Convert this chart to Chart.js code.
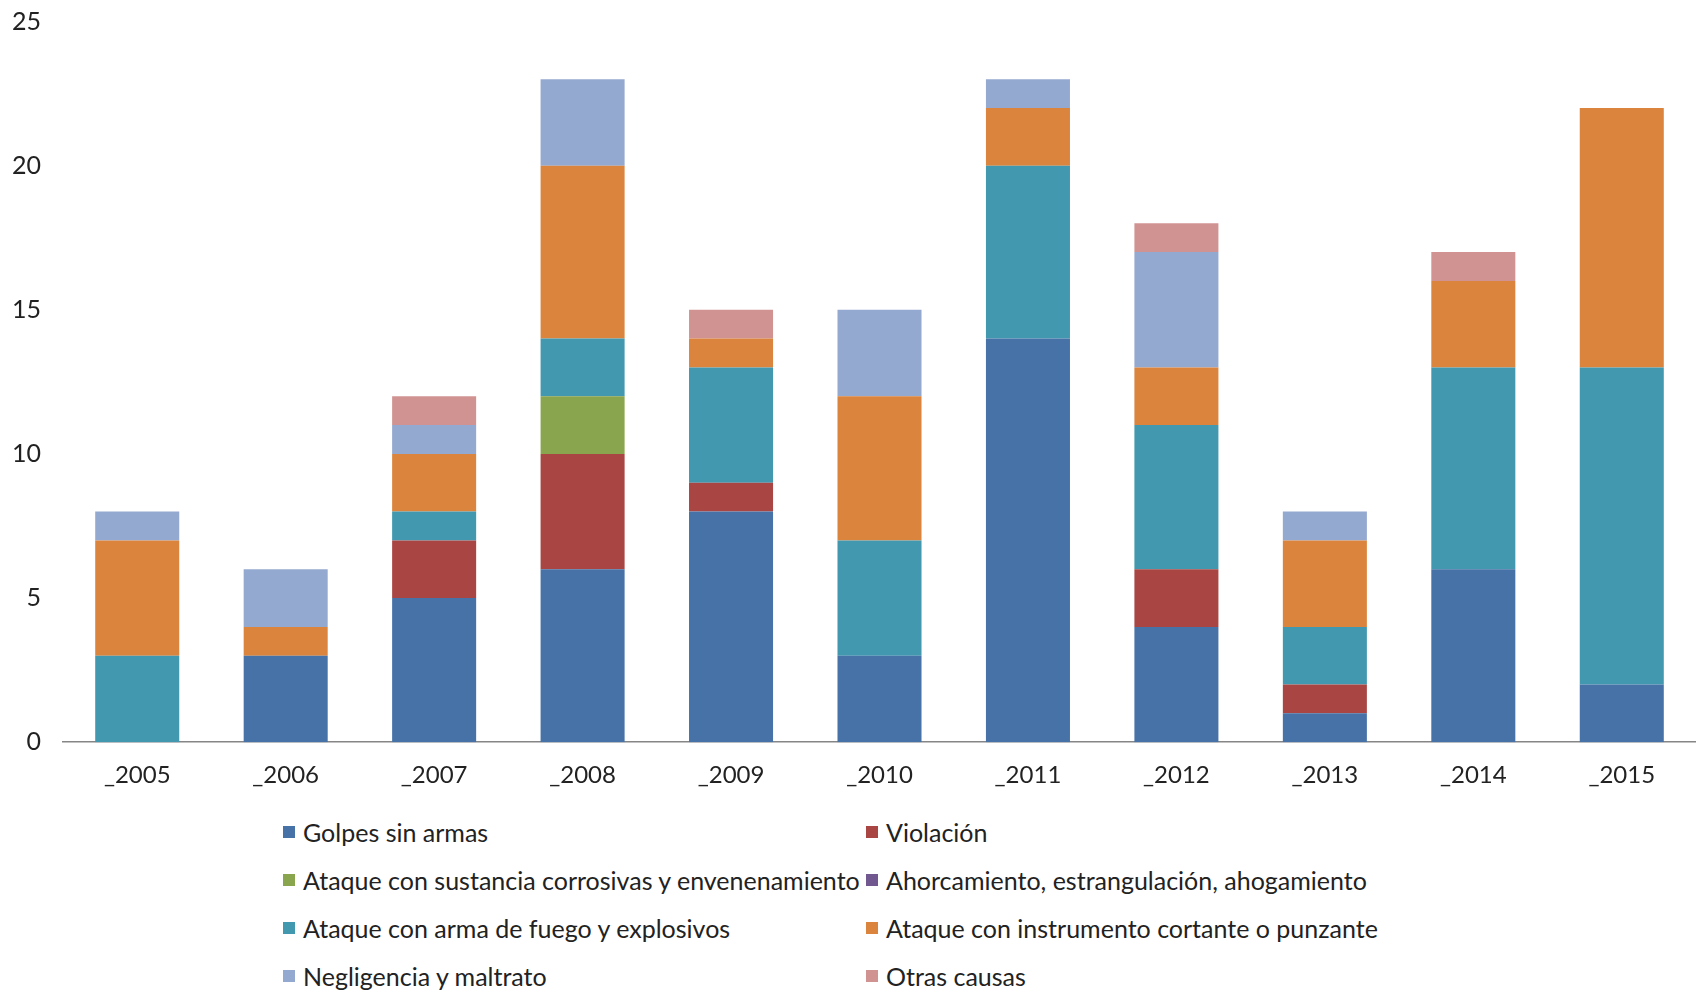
<!DOCTYPE html>
<html>
<head>
<meta charset="utf-8">
<script src="https://cdn.jsdelivr.net/npm/chart.js@4.4.1/dist/chart.umd.min.js"></script>
<style>
  html, body { margin: 0; padding: 0; background: #fff; }
  #wrap { position: relative; width: 1696px; height: 997px; }
  #chart-box { position: absolute; left: 0; top: 0; width: 1696px; height: 801px; }
  #legend {
    position: absolute; left: 283px; top: 808px;
    display: grid; grid-template-columns: 583px 583px; grid-auto-rows: 48px;
    font-family: Lato, 'Open Sans', sans-serif; font-size: 25px; color: #222;
  }
  #legend .item { display: flex; align-items: center; white-space: nowrap; }
  #legend .box { width: 12px; height: 12px; margin-right: 8px; flex: none; }
</style>
</head>
<body>
<div id="wrap">
  <div id="chart-box"><canvas id="causesChart"></canvas></div>
  <div id="legend"></div>
</div>
<script>
// Years (x axis categories)
const years = ['_2005', '_2006', '_2007', '_2008', '_2009', '_2010', '_2011', '_2012', '_2013', '_2014', '_2015'];

// Series, stacked bottom to top
const golpes      = [0, 3, 5, 6, 8, 3, 14, 4, 1, 6, 2];
const violacion   = [0, 0, 2, 4, 1, 0, 0, 2, 1, 0, 0];
const sustancia   = [0, 0, 0, 2, 0, 0, 0, 0, 0, 0, 0];
const ahorcamiento = [0, 0, 0, 0, 0, 0, 0, 0, 0, 0, 0];
const armaFuego   = [3, 0, 1, 2, 4, 4, 6, 5, 2, 7, 11];
const cortante    = [4, 1, 2, 6, 1, 5, 2, 2, 3, 3, 9];
const negligencia = [1, 2, 1, 3, 0, 3, 1, 4, 1, 0, 0];
const otras       = [0, 0, 1, 0, 1, 0, 0, 1, 0, 1, 0];

const yTicks = [0, 5, 10, 15, 20, 25];

const FONT = 'Lato, "Open Sans", sans-serif';

const series = [
  { label: 'Golpes sin armas', data: golpes, color: '#4672a7' },
  { label: 'Violación', data: violacion, color: '#a94644' },
  { label: 'Ataque con sustancia corrosivas y envenenamiento', data: sustancia, color: '#89a54e' },
  { label: 'Ahorcamiento, estrangulación, ahogamiento', data: ahorcamiento, color: '#71588f' },
  { label: 'Ataque con arma de fuego y explosivos', data: armaFuego, color: '#4198af' },
  { label: 'Ataque con instrumento cortante o punzante', data: cortante, color: '#db843d' },
  { label: 'Negligencia y maltrato', data: negligencia, color: '#93a9cf' },
  { label: 'Otras causas', data: otras, color: '#d19392' },
];

const chart = new Chart(document.getElementById('causesChart'), {
  type: 'bar',
  data: {
    labels: years,
    datasets: series.map(s => ({
      label: s.label,
      data: s.data,
      backgroundColor: s.color,
      borderWidth: 0,
      categoryPercentage: 1,
      barPercentage: 0.566,
    })),
  },
  options: {
    responsive: true,
    maintainAspectRatio: false,
    animation: false,
    layout: { padding: { top: 1, right: 0, left: 0, bottom: 0 } },
    plugins: {
      legend: { display: false },
      tooltip: { enabled: false },
    },
    scales: {
      x: {
        stacked: true,
        grid: { display: false },
        border: { display: true, color: '#868686', width: 1.5 },
        ticks: {
          color: '#222',
          padding: 11,
          font: { family: FONT, size: 24 },
        },
      },
      y: {
        stacked: true,
        min: 0,
        max: 25,
        afterBuildTicks: (axis) => { axis.ticks = yTicks.map(v => ({ value: v })); },
        afterFit: (axis) => { axis.width = 63; },
        grid: { display: false },
        border: { display: false },
        ticks: {
          color: '#222',
          padding: 14,
          font: { family: FONT, size: 25, lineHeight: 0.6 },
        },
      },
    },
  },
});

// HTML legend, two columns as in the original
const legendEl = document.getElementById('legend');
series.forEach(s => {
  const item = document.createElement('div');
  item.className = 'item';
  item.innerHTML = `<span class="box" style="background:${s.color}"></span><span>${s.label}</span>`;
  legendEl.appendChild(item);
});
</script>
</body>
</html>
